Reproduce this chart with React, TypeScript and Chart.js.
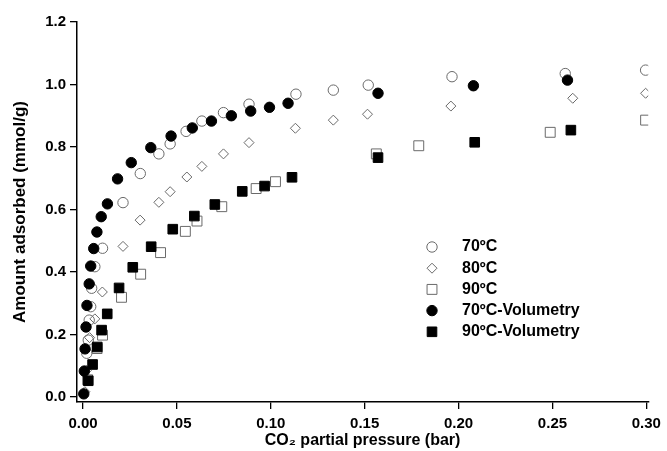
import React, { useEffect, useRef } from 'react';
import { Chart, registerables } from 'chart.js';

Chart.register(...registerables);

const xTickValues = [0, 0.05, 0.1, 0.15, 0.2, 0.25, 0.3];
const yTickValues = [0, 0.2, 0.4, 0.6, 0.8, 1.0, 1.2];
const seriesNames = ['70ºC', '80ºC', '90ºC', '70ºC-Volumetry', '90ºC-Volumetry'];
const xTitle = 'CO₂ partial pressure (bar)';
const yTitle = 'Amount adsorbed (mmol/g)';

const t70x = [0.0020, 0.0028, 0.0033, 0.0041, 0.0046, 0.0063, 0.0104, 0.0213, 0.0305, 0.0404, 0.0464, 0.0549, 0.0633, 0.0748, 0.0884, 0.1134, 0.1333, 0.1519, 0.1965, 0.2568, 0.2996];
const t70y = [0.140, 0.182, 0.246, 0.289, 0.348, 0.417, 0.476, 0.622, 0.715, 0.778, 0.810, 0.850, 0.883, 0.910, 0.937, 0.969, 0.982, 0.998, 1.025, 1.035, 1.046];

const t80x = [0.0010, 0.0018, 0.0035, 0.0063, 0.0103, 0.0213, 0.0304, 0.0404, 0.0464, 0.0553, 0.0633, 0.0748, 0.0884, 0.1131, 0.1333, 0.1515, 0.1959, 0.2608, 0.2996];
const t80y = [0.017, 0.085, 0.190, 0.250, 0.336, 0.482, 0.566, 0.623, 0.657, 0.704, 0.738, 0.778, 0.814, 0.860, 0.886, 0.905, 0.931, 0.956, 0.972];

const t90x = [0.0025, 0.0075, 0.0104, 0.0205, 0.0307, 0.0413, 0.0545, 0.0607, 0.0739, 0.0922, 0.1025, 0.1562, 0.1788, 0.2488, 0.2996];
const t90y = [0.055, 0.155, 0.198, 0.319, 0.393, 0.462, 0.530, 0.563, 0.609, 0.667, 0.689, 0.778, 0.804, 0.847, 0.886];

const v70x = [0.0004, 0.0007, 0.0011, 0.0016, 0.0021, 0.0033, 0.0041, 0.0057, 0.0074, 0.0097, 0.0130, 0.0184, 0.0257, 0.0361, 0.0469, 0.0582, 0.0684, 0.0790, 0.0893, 0.0993, 0.1092, 0.1571, 0.2079, 0.2580];
const v70y = [0.010, 0.083, 0.154, 0.224, 0.293, 0.362, 0.419, 0.475, 0.528, 0.577, 0.618, 0.698, 0.750, 0.798, 0.835, 0.861, 0.883, 0.900, 0.915, 0.927, 0.940, 0.972, 0.996, 1.014];

const v90x = [0.0028, 0.0051, 0.0076, 0.0099, 0.0129, 0.0192, 0.0265, 0.0363, 0.0478, 0.0593, 0.0702, 0.0848, 0.0967, 0.1113, 0.1571, 0.2086, 0.2598];
const v90y = [0.052, 0.104, 0.160, 0.214, 0.266, 0.349, 0.415, 0.481, 0.537, 0.579, 0.616, 0.658, 0.675, 0.703, 0.766, 0.815, 0.854];

const FONT = "'Liberation Sans', Arial, Helvetica, sans-serif";
const GREY = '#6a6a6a';

const toPts = (xs: number[], ys: number[]) => xs.map((x, i) => ({ x, y: ys[i] }));

const styles = [
  { pointStyle: 'circle', radius: 5.2, border: GREY, fill: 'rgba(0,0,0,0)' },
  { pointStyle: 'rectRot', radius: 5, border: GREY, fill: 'rgba(0,0,0,0)' },
  { pointStyle: 'rect', radius: 7, border: GREY, fill: 'rgba(0,0,0,0)' },
  { pointStyle: 'circle', radius: 5.2, border: '#000', fill: '#000' },
  { pointStyle: 'rect', radius: 6.8, border: '#000', fill: '#000' },
];

function drawMarker(ctx: CanvasRenderingContext2D, idx: number, x: number, y: number) {
  const s = styles[idx];
  ctx.save();
  ctx.lineWidth = 1;
  ctx.strokeStyle = s.border;
  ctx.fillStyle = s.fill;
  ctx.beginPath();
  const r = s.radius;
  if (s.pointStyle === 'circle') {
    ctx.arc(x, y, r, 0, Math.PI * 2);
  } else if (s.pointStyle === 'rect') {
    const h = r * Math.SQRT1_2;
    ctx.rect(x - h, y - h, 2 * h, 2 * h);
  } else {
    ctx.moveTo(x - r, y);
    ctx.lineTo(x, y - r);
    ctx.lineTo(x + r, y);
    ctx.lineTo(x, y + r);
    ctx.closePath();
  }
  ctx.fill();
  ctx.stroke();
  ctx.restore();
}

const legendPlugin = {
  id: 'insideLegend',
  afterDraw(chart: any) {
    const ctx = chart.ctx as CanvasRenderingContext2D;
    const mx = 432;
    const tx = 462;
    const y0 = 247;
    const dy = 21.2;
    ctx.save();
    ctx.font = `bold 16px ${FONT}`;
    ctx.fillStyle = '#000';
    ctx.textBaseline = 'middle';
    ctx.textAlign = 'left';
    seriesNames.forEach((name, i) => {
      const y = y0 + i * dy;
      drawMarker(ctx, i, mx, y);
      ctx.fillText(name, tx, y);
    });
    ctx.restore();
  },
};

export default function App() {
  const ref = useRef<HTMLCanvasElement | null>(null);
  useEffect(() => {
    if (!ref.current) return;
    const order = [3, 4, 5, 1, 2];
    const datasets = [
      toPts(t70x, t70y),
      toPts(t80x, t80y),
      toPts(t90x, t90y),
      toPts(v70x, v70y),
      toPts(v90x, v90y),
    ].map((data, i) => ({
      label: seriesNames[i],
      data,
      showLine: false,
      pointStyle: styles[i].pointStyle as any,
      pointRadius: styles[i].radius,
      pointBorderWidth: 1,
      pointBorderColor: styles[i].border,
      pointBackgroundColor: styles[i].fill,
      borderColor: styles[i].border,
      backgroundColor: styles[i].fill,
      order: order[i],
    }));
    const chart = new Chart(ref.current, {
      type: 'scatter',
      data: { datasets },
      plugins: [legendPlugin],
      options: {
        animation: false,
        responsive: false,
        maintainAspectRatio: false,
        layout: { padding: { top: 22, right: 15, bottom: 0, left: 0 } },
        plugins: { legend: { display: false }, tooltip: { enabled: false } },
        scales: {
          x: {
            type: 'linear',
            min: -0.0032,
            max: 0.301,
            afterBuildTicks: (scale: any) => {
              scale.ticks = xTickValues.map((v) => ({ value: v }));
            },
            afterFit: (scale: any) => {
              scale.height = 49;
            },
            ticks: {
              color: '#000',
              padding: 6,
              font: { family: FONT, size: 15, weight: 'bold' },
              callback: (v: any) => Number(v).toFixed(2),
              maxRotation: 0,
            },
            grid: { drawOnChartArea: false, drawTicks: true, tickLength: 7, color: '#000', lineWidth: 1.3 },
            border: { display: true, color: '#000', width: 1.5 },
            title: {
              display: true,
              text: xTitle,
              color: '#000',
              font: { family: FONT, size: 16, weight: 'bold' },
              padding: { top: 0, bottom: 1 },
            },
          },
          y: {
            type: 'linear',
            min: -0.016,
            max: 1.2,
            afterBuildTicks: (scale: any) => {
              scale.ticks = yTickValues.map((v) => ({ value: v }));
            },
            afterFit: (scale: any) => {
              scale.width = 77;
            },
            ticks: {
              color: '#000',
              padding: 4,
              font: { family: FONT, size: 15, weight: 'bold' },
              callback: (v: any) => Number(v).toFixed(1),
            },
            grid: { drawOnChartArea: false, drawTicks: true, tickLength: 7, color: '#000', lineWidth: 1.3 },
            border: { display: true, color: '#000', width: 1.5 },
            title: {
              display: true,
              text: yTitle,
              color: '#000',
              font: { family: FONT, size: 17, weight: 'bold' },
              padding: { top: 10, bottom: 0 },
            },
          },
        },
      },
    });
    return () => chart.destroy();
  }, []);
  return (
    <div style={{ position: 'fixed', left: 0, top: 0, width: 667, height: 451, background: '#fff' }}>
      <canvas ref={ref} width={667} height={451} style={{ width: 667, height: 451, display: 'block' }} />
    </div>
  );
}
